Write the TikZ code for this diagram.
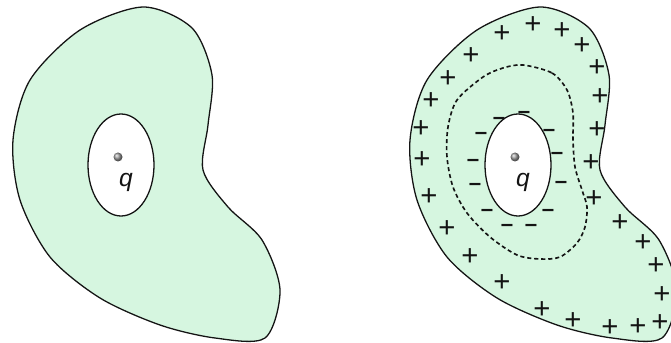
\documentclass[tikz,border=0pt]{standalone}
\usepackage{fontspec}
\setmainfont{Liberation Sans}
\definecolor{myfill}{RGB}{214,246,224}
\definecolor{mydark}{RGB}{20,20,20}
\tikzset{
  body/.style={draw=mydark, fill=myfill, line width=1.1pt},
  cavity/.style={draw=mydark, fill=white, line width=1.1pt},
  charge/.style={ball color=gray!80, draw=none},
  plussign/.style={inner sep=0pt, text=mydark, font=\fontsize{25}{25}\selectfont},
  minussign/.style={inner sep=0pt, text=mydark, font=\fontsize{19}{19}\selectfont\bfseries},
  qlabel/.style={inner sep=0pt, text=mydark, font=\fontsize{21}{21}\selectfont\itshape},
  gauss/.style={draw=mydark, dash pattern=on 3.5pt off 2.5pt, line width=1.4pt}
}

\begin{document}
\begin{tikzpicture}[x=0.03cm, y=-0.03cm]
  \useasboundingbox (0,0) rectangle (671,343);

  % Conductor bodies (left: neutral, right: with induced charges)
  \foreach \dx/\nm in {0/a, 397/b} {
    \begin{scope}[shift={(\dx,0)}]
      \draw[body] plot[smooth cycle] coordinates {
        (143,7) (192,28) (212,75) (208,125) (203,170) (228,207) (262,240)
        (280,290) (265,338) (215,338) (160,325) (100,298) (50,257)
        (20,200) (13,140) (30,80) (80,30)};
      % Cavity with point charge
      \draw[cavity] (121,165) ellipse [x radius=33, y radius=51];
      \shade[charge] (118,157) circle [radius=4.5];
      \node[qlabel] (q\nm) at (126,182) {q};
    \end{scope}
  }

  % Gaussian surface
  \draw[gauss] plot[smooth cycle] coordinates {
    (523,65) (552,73) (567,90) (573,113) (573,140) (575,167) (582,190)
    (587,207) (585,227) (577,243) (560,257) (540,259) (517,255) (490,237)
    (467,213) (453,187) (447,157) (448,127) (457,100) (483,77) (503,68)};

  % Induced negative charges on the cavity wall
  \foreach \x/\y [count=\i] in {499/121, 524/115, 549/133, 557/156, 561/185,
      548/213, 531/228, 507/228, 487/213, 475/187, 473/163, 481/136}
    \node[minussign] (minus\i) at (\x,\y) {–};

  % Positive charges on the outer surface
  \foreach \x/\y [count=\i] in {533/25, 562/31, 582/46, 597/68, 600/97,
      597/130, 591/163, 594/199, 620/223, 643/243, 656/266, 662/295,
      660/323, 638/327, 610/328, 573/321, 542/310, 502/283, 470/257,
      447/229, 429/197, 422/160, 421/129, 431/101, 448/79, 471/56, 502/34}
    \node[plussign] (plus\i) at (\x,\y) {+};
\end{tikzpicture}
\end{document}
